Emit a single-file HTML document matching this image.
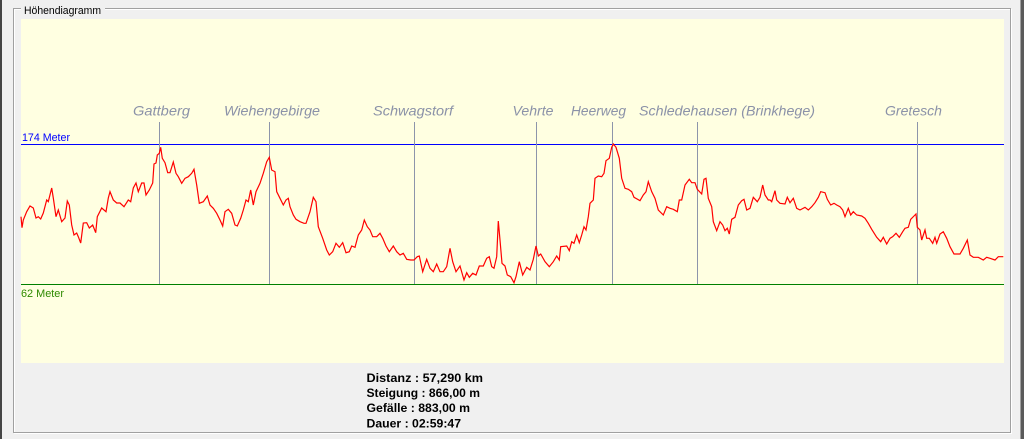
<!DOCTYPE html>
<html>
<head>
<meta charset="utf-8">
<style>
  html,body{margin:0;padding:0;background:#f0f0f0;}
  body{width:1024px;height:439px;overflow:hidden;}
  svg{display:block;}
</style>
</head>
<body>
<svg width="1024" height="439" viewBox="0 0 1024 439" xmlns="http://www.w3.org/2000/svg">
  <rect x="0" y="0" width="1024" height="439" fill="#f0f0f0"/>
  <!-- window edges -->
  <rect x="0" y="0" width="2" height="439" fill="#454545"/>
  <rect x="1021" y="0" width="3" height="439" fill="#5a5a5a"/>
  <rect x="1020" y="0" width="1" height="439" fill="#a0a0a0"/>

  <!-- group box -->
  <rect x="14.5" y="9.5" width="997" height="424" fill="none" stroke="#ffffff" stroke-width="1"/>
  <rect x="13.5" y="8.5" width="997" height="424" fill="none" stroke="#a0a0a0" stroke-width="1"/>
  <rect x="21" y="2" width="84" height="14" fill="#f0f0f0"/>
  <text x="24" y="14" font-family="Liberation Sans, sans-serif" font-size="11" fill="#000" textLength="77" lengthAdjust="spacingAndGlyphs">Höhendiagramm</text>

  <!-- plot area -->
  <rect x="21" y="19" width="983" height="344" fill="#ffffe1"/>

  <!-- reference lines -->
  <rect x="21" y="144" width="983" height="1" fill="#0000ff"/>
  <rect x="21" y="284" width="983" height="1" fill="#008000"/>
  <text x="22" y="141" font-family="Liberation Sans, sans-serif" font-size="11" fill="#0000ff" textLength="48" lengthAdjust="spacingAndGlyphs">174 Meter</text>
  <text x="21" y="297" font-family="Liberation Sans, sans-serif" font-size="11" fill="#2f8a00" textLength="43" lengthAdjust="spacingAndGlyphs">62 Meter</text>

  <!-- markers -->
  <g fill="#8d95aa">
    <rect x="159" y="122" width="1" height="162"/>
    <rect x="269" y="122" width="1" height="162"/>
    <rect x="414" y="122" width="1" height="162"/>
    <rect x="536" y="122" width="1" height="162"/>
    <rect x="612" y="122" width="1" height="162"/>
    <rect x="697" y="122" width="1" height="162"/>
    <rect x="917" y="122" width="1" height="162"/>
  </g>
  <g font-family="Liberation Sans, sans-serif" font-size="14" font-style="italic" fill="#8b92a8">
    <text x="133" y="115.5" textLength="57" lengthAdjust="spacingAndGlyphs">Gattberg</text>
    <text x="224" y="115.5" textLength="96" lengthAdjust="spacingAndGlyphs">Wiehengebirge</text>
    <text x="373" y="115.5" textLength="80" lengthAdjust="spacingAndGlyphs">Schwagstorf</text>
    <text x="512.5" y="115.5" textLength="41" lengthAdjust="spacingAndGlyphs">Vehrte</text>
    <text x="571" y="115.5" textLength="55" lengthAdjust="spacingAndGlyphs">Heerweg</text>
    <text x="639" y="115.5" textLength="176" lengthAdjust="spacingAndGlyphs">Schledehausen (Brinkhege)</text>
    <text x="885" y="115.5" textLength="57" lengthAdjust="spacingAndGlyphs">Gretesch</text>
  </g>

  <!-- elevation profile -->
  <polyline fill="none" stroke="#ff0000" stroke-width="1.2" stroke-linejoin="miter" points="
21,216.7 22,227.7 23.3,220 26.7,211.7 30,206 33.3,208 36,218 38.3,216.7 40.7,219 43.3,213 46.7,200 48.3,201.7 51.7,188 53.3,198 56,216.7 58.3,210 61.7,221.7 65,218 67.3,201 69.3,205 71.7,225 74,235 76.7,233 78.3,236.7 80.7,243 83.3,223 86.7,222.7 89.3,228 92.7,225 95.7,232.7 97.3,216.7 101.7,208 106,211.7 108.3,198 110,191.7 113.3,200 116.7,203 120,203 124,206.7 128.3,200 130.7,201.7 133.3,188 136,183 138.3,191.7 141.7,183 144,183 146,195 149.3,190 152.7,183 154,164 156,163 157.3,155 159.3,153.3 160.7,147.3 162.3,158.3 165,162.7 167.7,172.7 170,172.7 173.3,162 176,173.3 178.3,176.7 181.7,183.3 185,178.3 188.3,176.7 191.7,173.3 194,169.3 196.7,185 199.3,203.3 203.3,201.7 207.3,196 210,205 213.3,208.3 216.7,213.3 220,220 222.7,226 225,211.7 228.3,209.3 231.7,213.3 235,225 237.3,226 240.7,218.3 243.3,210 246,200 248.3,201.7 250.7,190 253.3,205 256,191.7 260,183.3 263.3,173.3 266.7,161.7 269.3,157.3 271.7,170 275,171.7 276.7,191.7 280,198.3 283.3,205 286,200 288.3,198.3 290,206.7 293.3,215 296,219.3 300,221.7 304,223.3 306,223.3 310,211.7 313.3,197.3 316,201.7 318.3,226.7 322.7,238.3 326.7,250 329.3,255 332.7,251.7 336,243.3 339.3,247.3 342.7,242.7 346,252.7 349.3,251.7 351.7,246 355,247.3 358.3,235 361.7,230 364.3,220 367.3,226.7 370,230 372.7,236.7 376.7,236.7 380,233.3 382.7,238.3 386,246 389.3,251.7 393.3,246 396.7,251.7 400,255 403.3,253.3 406.7,259.3 410.7,260 414,260 417.3,256.7 419.3,256 422.7,271.7 426.7,259.3 430,268.3 433.3,271.7 436.7,264 440,271.7 443.3,271.7 446.7,266.7 450,248.3 452.7,261.7 456,271.7 460,266 464,280 466.7,272.7 469.3,277.3 472.7,273.3 476,275 479.3,266 483.3,266 486.7,258.3 489.3,256.7 491.7,266.7 494,268.3 496.7,256.7 498.3,221 500,240 502,263.3 505,266 507.3,275 510.7,276.7 514,282.7 516,276.7 519.3,261.7 522.7,275 526.7,267.3 530,270 533.3,259.3 536,246 538.3,256 540.7,254 545,261.7 549.3,266.7 553.3,261.7 556.7,256 559.3,260 560.7,246.7 566.7,246 569.3,250.7 571.7,241.7 574,243.3 576.7,235 579.3,242.7 581.7,235 584,226.7 586,230 588.3,216.7 590,203.3 593.3,200 595,178.3 598.3,176 601.7,176.7 604,173.3 606,160.7 609.3,158.3 611.7,147.3 613.3,144 616,147.3 619.3,158.3 621.7,178.3 625,188.3 628.3,189.3 631.7,191.7 634,197.3 640,200.7 643.3,195 646,191.7 648.3,181.7 651.7,191.7 655,198.3 658.3,210 663.3,215 666.7,206.7 670,208.3 673.3,209.3 677.3,211.7 679.3,200 681.7,200 685,185 689.3,179.3 691.7,182.7 695,182.7 697.3,189.3 701.7,194 704,179.3 706,178.3 708.3,198.3 711.7,206.7 713.3,221.7 716.7,230.7 720,221.7 722.7,225 725,230.7 727.3,228.3 729.3,234 731.7,219.3 735,217.3 738.3,205 741.7,200.7 744,199.3 746.7,210 750,208.3 753.3,197.3 757.3,201.7 760,197.3 762.7,185 765,195 768.3,200 770,200 771.7,201.7 775,190.7 776.7,200 780,203.3 785,204 787.3,197.3 790,202.7 793.3,198.3 796.7,208.3 800,210 805,207.3 808.3,210 811.7,206.7 815,202.7 818.3,197.3 820.7,191.7 825,192.7 827.3,199.3 830.7,205 834,203.3 836.7,205 840,206.7 842.7,210 845,216.7 848.3,208.3 850.7,215 853.3,211.7 856.7,215 861.7,216 865,218.3 868.3,223.3 871.7,229.3 876.7,237.3 880.7,241.7 883.3,237.3 886.7,244 890,238.3 892.7,236.7 896,233.3 899.3,237.3 902.7,231.7 905,228.3 908.3,227.3 910.7,219.3 914,216 916,214 917.3,227.3 920,230 921.7,240 925,230 926.7,238.3 929.3,238.3 932.7,243.3 935,237.3 936.7,243.3 940,234 943.3,231.7 946.7,238.3 950,246.7 954,254 960,254 963.3,248.3 967.3,240 970,255 973.3,257.3 978.3,257.3 983.3,260 986.7,257.3 990,258.3 995,260 998.3,256.7 1003.3,256.7"/>

  <!-- stats -->
  <g font-family="Liberation Sans, sans-serif" font-size="12" font-weight="bold" fill="#000">
    <text x="366.5" y="382" textLength="116.5" lengthAdjust="spacingAndGlyphs">Distanz : 57,290 km</text>
    <text x="366.5" y="397" textLength="113.5" lengthAdjust="spacingAndGlyphs">Steigung : 866,00 m</text>
    <text x="366.5" y="412" textLength="103.5" lengthAdjust="spacingAndGlyphs">Gefälle : 883,00 m</text>
    <text x="366.5" y="427.5" textLength="94.5" lengthAdjust="spacingAndGlyphs">Dauer : 02:59:47</text>
  </g>
</svg>
</body>
</html>
